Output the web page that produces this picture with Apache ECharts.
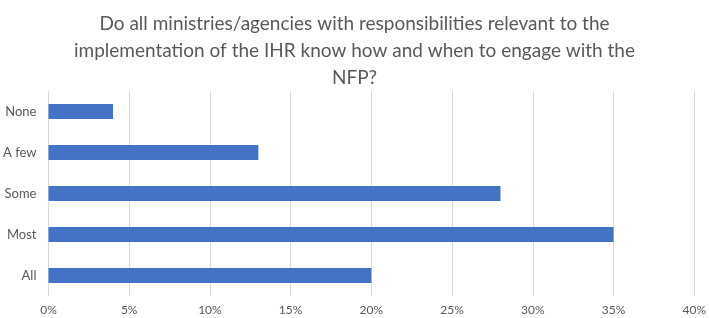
<!DOCTYPE html>
<html>
  <head>
    <meta charset="utf-8">
    <title>IHR NFP engagement</title>
    <script src="https://cdn.jsdelivr.net/npm/echarts@6/dist/echarts.min.js"></script>
    <style>
      html, body { margin: 0; padding: 0; background: #fff; }
    </style>
  </head>
  <body>
    <div id="main" style="width:709px;height:318px;"></div>
    <script>
// data
var categories = ['All', 'Most', 'Some', 'A few', 'None'];
var percents = [20, 35, 28, 13, 4];
var axisMax = 40;
var axisStep = 5;
var titleText = 'Do all ministries/agencies with responsibilities relevant to the\nimplementation of the IHR know how and when to engage with the\nNFP?';

var myChart = echarts.init(document.getElementById('main'));
myChart.setOption({
    animation: false,
    textStyle: { fontFamily: 'Lato' },
    title: {
        text: titleText,
        left: 'center',
        top: 5,
        textStyle: {
            fontFamily: 'Lato',
            fontSize: 19,
            fontWeight: 'normal',
            color: '#595959',
            lineHeight: 27,
            align: 'center'
        }
    },
    grid: {
        left: 44,
        right: 11,
        top: 91,
        bottom: 22,
        containLabel: false
    },
    xAxis: {
        type: 'value',
        min: 0,
        max: axisMax,
        interval: axisStep,
        axisLine: { show: false },
        axisTick: { show: false },
        splitLine: { lineStyle: { color: '#d9d9d9', width: 1 } },
        axisLabel: {
            formatter: '{value}%',
            color: '#595959',
            fontSize: 12,
            margin: 8
        }
    },
    yAxis: {
        type: 'category',
        data: categories,
        axisLine: { show: false },
        axisTick: { show: false },
        axisLabel: {
            color: '#595959',
            fontSize: 13,
            margin: 12
        }
    },
    series: [{
        name: 'Percent',
        type: 'bar',
        data: percents,
        barWidth: 15,
        itemStyle: { color: '#4472C4' }
    }]
});
    </script>
  </body>
</html>
